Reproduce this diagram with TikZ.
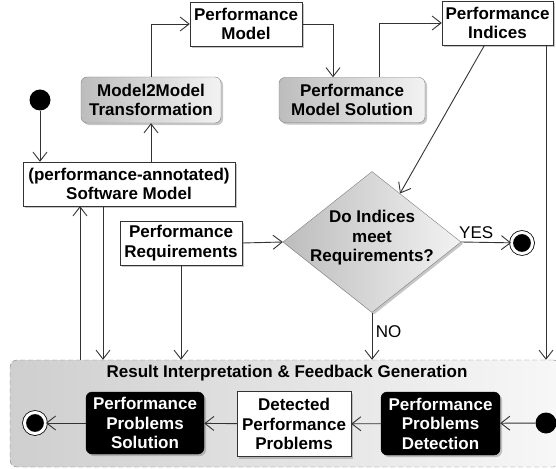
\documentclass[tikz,border=0pt]{standalone}
\usepackage{fontspec}
\setmainfont{Liberation Sans}
\usepackage{tikz}
\usetikzlibrary{arrows.meta,shapes,shadows}
\definecolor[named]{Line}{gray}{.2}
\definecolor[named]{Rim}{gray}{.5}
\definecolor[named]{Dark}{gray}{.74}
\definecolor[named]{Light}{gray}{.95}
\tikzset{txt/.style ={
        font=\bfseries\fontsize{17}{19.5}\selectfont,
        align=center,
    },
    act/.style ={
        txt,
        draw=Line,
        fill=white,
        inner sep=0pt,
        drop shadow={shadow xshift=2pt,shadow yshift=-2pt,fill=gray,opacity=.45},
    },
    proc/.style ={
        txt,
        draw=Rim,
        rounded corners=6pt,
        left color=Dark,
        right color=Light,
        inner sep=0pt,
        drop shadow={shadow xshift=2pt,shadow yshift=-2pt,fill=gray,opacity=.45},
    },
    blk/.style ={
        txt,
        text=white,
        fill=black,
        draw=black,
        rounded corners=6pt,
        inner sep=0pt,
        drop shadow={shadow xshift=2pt,shadow yshift=-2pt,fill=gray,opacity=.45},
    },
    choice/.style ={
        diamond,
        draw=Rim,
        left color=Dark,
        right color=Light,
        minimum width=178pt,
        minimum height=141pt,
        inner sep=0pt,
        drop shadow={shadow xshift=2pt,shadow yshift=-2pt,fill=gray,opacity=.45},
    },
    region/.style ={
        draw=Rim,
        dash pattern=on 5pt off 3pt,
        rounded corners=7pt,
        left color=gray!38,
        right color=gray!6,
        minimum width=550pt,
        minimum height=107pt,
    },
    startdot/.style ={
        circle,
        fill=black,
        inner sep=0pt,
        minimum size=21pt,
    },
    enddot/.style ={
        circle,
        fill=black,
        draw=black,
        line width=.8pt,
        double=white,
        double distance=3pt,
        inner sep=0pt,
        minimum size=21pt,
    },
    flow/.style ={
        draw=Line,
        line width=.9pt,
        ->,
    },
    guard/.style ={
        font=\fontsize{17}{19.5}\selectfont,
    }}
\begin{document}
\begin{tikzpicture}[x=1pt,y=-1pt,>={Straight Barb[length=9pt,width=14pt]}]
	\useasboundingbox (0,0) rectangle (556,468);
	% result interpretation
	\node[region] (rif) at (285,413.5) {};
	\node[txt] (riftitle) at (287,373) {Result Interpretation \& Feedback Generation};
	% model transformation and solution
	\node[startdot] (start) at (40,100) {};
	\node[act,minimum width=212pt,minimum height=44pt] (swm) at (129,184) {(performance-annotated)\\Software Model};
	\node[proc,minimum width=140pt,minimum height=46pt] (m2m) at (151,100) {Model2Model\\Transformation};
	\node[act,minimum width=112pt,minimum height=44pt] (pm) at (246,24) {Performance\\Model};
	\node[proc,minimum width=146pt,minimum height=45pt] (pms) at (352,100) {Performance\\Model Solution};
	\node[act,minimum width=111pt,minimum height=44pt] (pi) at (497.5,23) {Performance\\Indices};
	\node[act,minimum width=122pt,minimum height=44pt] (req) at (181,243) {Performance\\Requirements};
	\node[choice] (dec) at (372,242) {};
	\node[txt,yshift=4pt] at (dec) {Do Indices\\meet\\Requirements?};
	\node[enddot] (stop) at (522,243) {};
	% feedback
	\node[startdot] (fbstart) at (546,423) {};
	\node[blk,minimum width=119pt,minimum height=63pt] (ppd) at (440.5,423.5) {Performance\\Problems\\Detection};
	\node[act,minimum width=114pt,minimum height=65pt] (dpp) at (294,424) {Detected\\Performance\\Problems};
	\node[blk,minimum width=118pt,minimum height=62pt] (pps) at (145,423) {Performance\\Problems\\Solution};
	\node[enddot] (fbstop) at (35,423) {};

	\draw[flow] (start) -- (start |- swm.north);
	\draw[flow] (m2m.south |- swm.north) -- (m2m.south);
	\draw[flow] (m2m.north) |- (pm.west);
	\draw[flow] (pm.east) -| ([xshift=-19pt]pms.north);
	\draw[flow] ([xshift=27pt]pms.north) |- (pi.west);
	\draw[flow] ([xshift=-13pt]pi.south) -- (dec.60);
	\draw[flow] ([xshift=48.5pt]pi.south) -- ([xshift=48.5pt]pi.south |- rif.north);
	\draw[flow] (req.east) -- (dec.west);
	\draw[flow] (req.south) -- (req.south |- rif.north);
	\draw[flow] (dec.east) -- (stop) node[guard,above,pos=.3] {YES};
	\draw[flow] (dec.south) -- (dec.south |- rif.north) node[guard,right,pos=.4] {NO};
	\draw[flow] ([xshift=-49pt]swm.south |- rif.north) -- ([xshift=-49pt]swm.south);
	\draw[flow] ([xshift=-26pt]swm.south) -- ([xshift=-26pt]swm.south |- rif.north);
	\draw[flow] (fbstart) -- (ppd);
	\draw[flow] (ppd) -- (dpp);
	\draw[flow] (dpp) -- (pps);
	\draw[flow] (pps) -- (fbstop);
\end{tikzpicture}
\end{document}
